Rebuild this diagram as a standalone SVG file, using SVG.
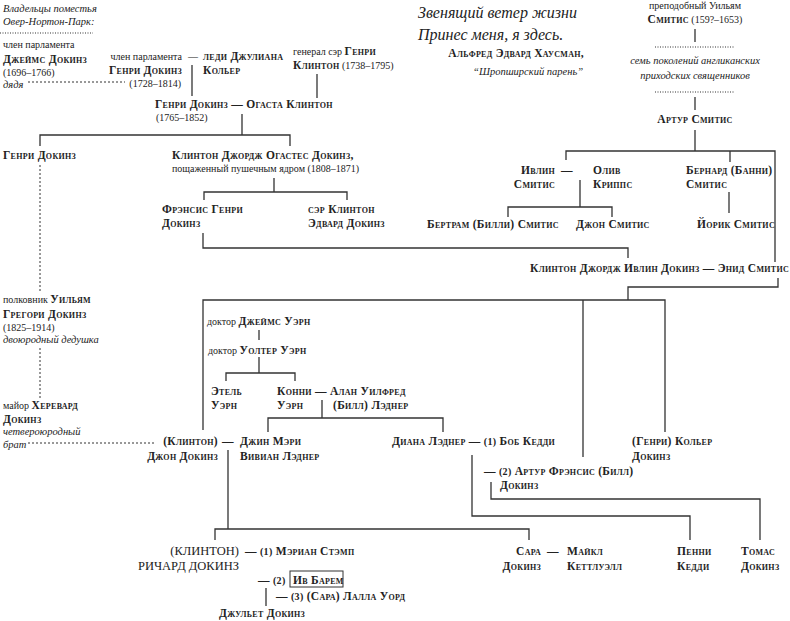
<svg xmlns="http://www.w3.org/2000/svg" width="790" height="621" viewBox="0 0 790 621">
<style>
text{font-family:"Liberation Serif",serif;fill:#222;font-size:11.5px}
.n{font-variant:small-caps;font-weight:bold;letter-spacing:0.3px}
.s{font-size:10px}
.t{font-size:11.5px}
.i{font-style:italic;font-size:10.5px}
.r{text-anchor:end}
.c{text-anchor:middle}
.q{font-style:italic;font-size:16px}
#links path,#links line{stroke:#333;stroke-width:1.3;fill:none}
#links .d{stroke-dasharray:2 2;stroke-width:1}
#links .o{stroke-dasharray:1 1.5;stroke-width:1.2}
</style>
<rect width="790" height="621" fill="#fff"/>
<g id="links">
<line class="o" x1="0" y1="33" x2="93" y2="33"/>
<line class="d" x1="28" y1="82" x2="125" y2="82"/>
<line x1="192" y1="65" x2="192" y2="96"/>
<line x1="317" y1="74" x2="317" y2="98"/>
<path d="M242 114V135M40 146V135H290V146"/>
<line class="d" x1="40" y1="165" x2="40" y2="292"/>
<path d="M274 178V192M204 200V192H347V200"/>
<path d="M203 233V248H628V258"/>
<path d="M695 29V42M695 97V110M695 130V151M566 160V151H775V262M730 151V162"/>
<line class="o" x1="655" y1="47" x2="735" y2="47"/>
<line class="o" x1="655" y1="92" x2="735" y2="92"/>
<path d="M580 180V207M508 217V207H612V217"/>
<line x1="729" y1="192" x2="729" y2="213"/>
<path d="M778 278V287H628V300M203 430V300H665V432M583 300V457"/>
<line x1="259" y1="330" x2="259" y2="340"/>
<path d="M259 357V373M226 381V373H295V381"/>
<path d="M322 400V418M268 432V418H443V432"/>
<line class="d" x1="40" y1="348" x2="40" y2="398"/>
<line class="d" x1="28" y1="443" x2="155" y2="443"/>
<path d="M228 450V529M215 540V529H529V540"/>
<path d="M472 455V516H690V540"/>
<path d="M491 482V499H760V540"/>
<line x1="266" y1="588" x2="266" y2="606"/>
</g>
<g id="header">
<text class="i" x="3" y="12">Владельцы поместья</text>
<text class="i" x="3" y="25">Овер-Нортон-Парк:</text>
</g>
<g id="quote">
<text class="q" x="418" y="18">Звенящий ветер жизни</text>
<text class="q" x="418" y="40">Принес меня, я здесь.</text>
<text class="n r" x="584" y="57">Альфред Эдвард Хаусман,</text>
<text class="i r" x="583" y="75">“Шропширский парень”</text>
</g>
<g id="james"><text class="s" x="3" y="48">член парламента</text><text class="n" x="3" y="63">Джеймс Докинз</text><text class="s" x="3" y="76">(1696–1766)</text><text class="i" x="3" y="88">дядя</text></g>
<g id="henry1728"><text class="s r" x="182" y="60">член парламента</text><text class="s" x="188" y="60">—</text><text class="n r" x="182" y="74">Генри Докинз</text><text class="s r" x="181" y="87">(1728–1814)</text></g>
<g id="juliana"><text class="n" x="203" y="60">леди Джулиана</text><text class="n" x="203" y="74">Кольер</text></g>
<g id="genclinton"><text class="s" x="293" y="55">генерал сэр <tspan class="n t">Генри</tspan></text><text x="293" y="69"><tspan class="n">Клинтон</tspan><tspan class="s"> (1738–1795)</tspan></text></g>
<g id="henry1765"><text class="n" x="155" y="108">Генри Докинз — Огаста Клинтон</text><text class="s" x="156" y="121">(1765–1852)</text></g>
<g id="henryD"><text class="n" x="3" y="159">Генри Докинз</text></g>
<g id="cgad"><text class="n" x="172" y="159">Клинтон Джордж Огастес Докинз,</text><text class="s" x="172" y="172">пощаженный пушечным ядром (1808–1871)</text></g>
<g id="francis"><text class="n" x="162" y="213">Фрэнсис Генри</text><text class="n" x="162" y="227">Докинз</text></g>
<g id="sirclinton"><text class="n" x="308" y="213">сэр Клинтон</text><text class="n" x="308" y="227">Эдвард Докинз</text></g>
<g id="william"><text class="s c" x="695" y="9">преподобный Уильям</text><text class="c" x="695" y="23"><tspan class="n">Смитис</tspan><tspan class="s"> (159?–1653)</tspan></text></g>
<g id="seven"><text class="i c" x="695" y="64">семь поколений англиканских</text><text class="i c" x="695" y="79">приходских священников</text></g>
<g id="arthur"><text class="n c" x="695" y="123">Артур Смитис</text></g>
<g id="evelyn"><text class="n r" x="555" y="174">Ивлин</text><text class="n" x="561" y="174">—</text><text class="n" x="593" y="174">Олив</text><text class="n r" x="555" y="188">Смитис</text><text class="n" x="593" y="188">Криппс</text></g>
<g id="bernard"><text class="n" x="686" y="174">Бернард (Банни)</text><text class="n" x="686" y="188">Смитис</text></g>
<g id="bertram"><text class="n" x="427" y="228">Бертрам (Билли) Смитис</text></g>
<g id="john"><text class="n" x="576" y="228">Джон Смитис</text></g>
<g id="yorick"><text class="n" x="697" y="228">Йорик Смитис</text></g>
<g id="cgid"><text class="n r" x="789" y="272">Клинтон Джордж Ивлин Докинз — Энид Смитис</text></g>
<g id="colwilliam"><text class="s" x="3" y="303">полковник <tspan class="n t">Уильям</tspan></text><text class="n" x="3" y="318">Грегори Докинз</text><text class="s" x="3" y="331">(1825–1914)</text><text class="i" x="3" y="343">двоюродный дедушка</text></g>
<g id="hereward"><text class="s" x="3" y="409">майор <tspan class="n t">Херевард</tspan></text><text class="n" x="3" y="423">Докинз</text><text class="i" x="3" y="435">четвероюродный</text><text class="i" x="3" y="448">брат</text></g>
<g id="jameswern"><text class="s" x="207" y="325">доктор <tspan class="n t">Джеймс Уэрн</tspan></text></g>
<g id="walterwern"><text class="s" x="208" y="354">доктор <tspan class="n t">Уолтер Уэрн</tspan></text></g>
<g id="ethel"><text class="n" x="211" y="395">Этель</text><text class="n" x="211" y="409">Уэрн</text></g>
<g id="connie"><text class="n" x="277" y="395">Конни — Алан Уилфред</text><text class="n" x="277" y="409">Уэрн</text><text class="n" x="333" y="409">(Билл) Лэднер</text></g>
<g id="johnD"><text class="n r" x="218" y="445">(Клинтон)</text><text class="n" x="222" y="445">—</text><text class="n r" x="218" y="460">Джон Докинз</text></g>
<g id="jean"><text class="n" x="240" y="445">Джин Мэри</text><text class="n" x="240" y="460">Вивиан Лэднер</text></g>
<g id="diana"><text class="n" x="392" y="445">Диана Лэднер — <tspan class="s">(1)</tspan> Боб Кедди</text></g>
<g id="arthurbill"><text class="n" x="484" y="475">— <tspan class="s">(2)</tspan> Артур Фрэнсис (Билл)</text><text class="n" x="500" y="489">Докинз</text></g>
<g id="kolyer"><text class="n" x="632" y="445">(Генри) Кольер</text><text class="n" x="632" y="460">Докинз</text></g>
<g id="richard"><text x="239" y="555" class="r" style="font-size:12.5px">(КЛИНТОН)</text><text class="n" x="245" y="555">— <tspan class="s">(1)</tspan> Мэриан Стэмп</text><text x="239" y="570" class="r" style="font-size:12.5px">РИЧАРД ДОКИНЗ</text></g>
<g id="eve"><text class="n" x="258" y="584">— <tspan class="s">(2)</tspan></text><rect x="290" y="571" width="53" height="16" fill="none" stroke="#333" stroke-width="1"/><text class="n" x="293" y="584">Ив Барем</text></g>
<g id="lalla"><text class="n" x="276" y="600">— <tspan class="s">(3)</tspan> (Сара) Лалла Уорд</text></g>
<g id="juliet"><text class="n" x="219" y="617">Джульет Докинз</text></g>
<g id="sarah"><text class="n r" x="541" y="555">Сара</text><text class="n" x="547" y="555">—</text><text class="n" x="567" y="555">Майкл</text><text class="n r" x="541" y="570">Докинз</text><text class="n" x="567" y="570">Кеттлуэлл</text></g>
<g id="penny"><text class="n" x="677" y="555">Пенни</text><text class="n" x="677" y="570">Кедди</text></g>
<g id="thomas"><text class="n" x="741" y="555">Томас</text><text class="n" x="741" y="570">Докинз</text></g>
</svg>
